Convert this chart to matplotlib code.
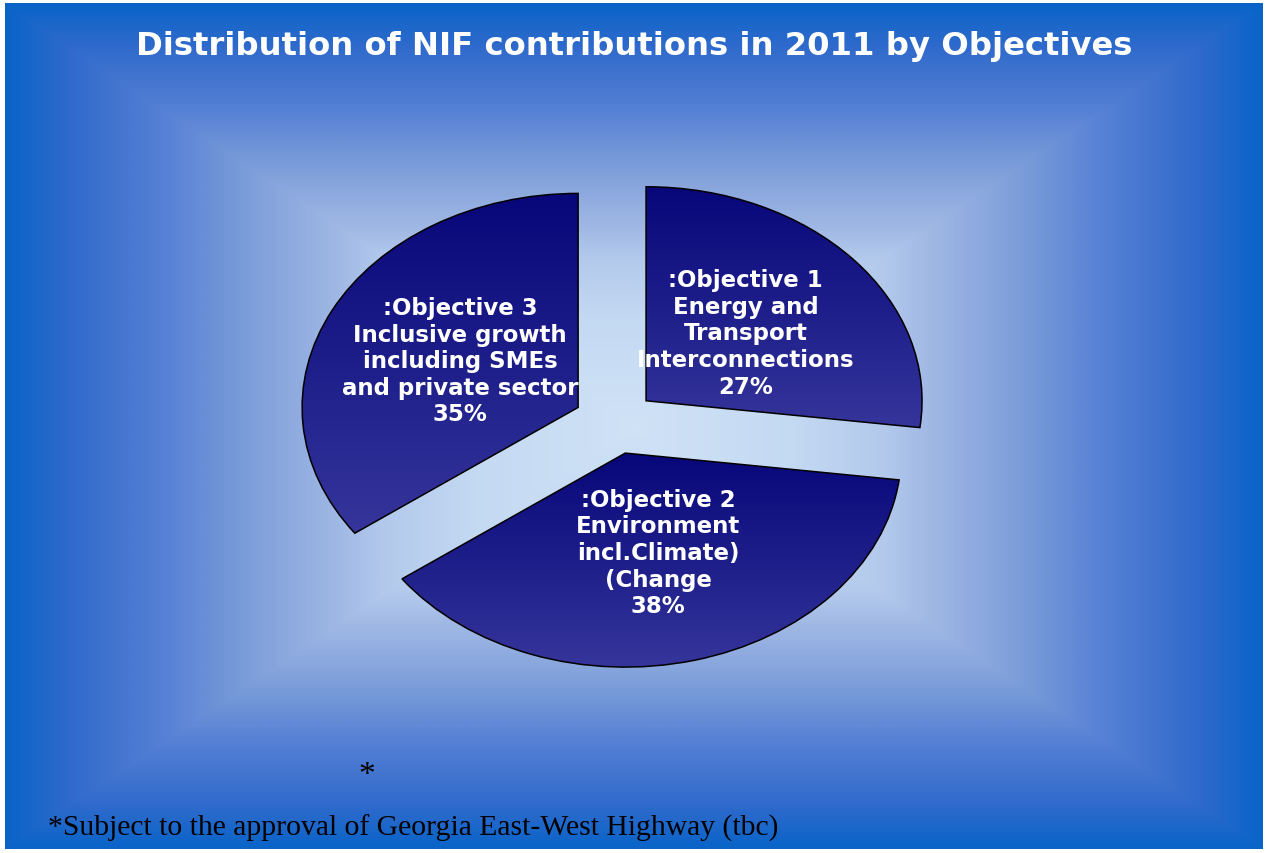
"""Distribution of NIF contributions in 2011 by Objectives -- exploded, flattened pie
on a boxed blue gradient slide background."""
import matplotlib

matplotlib.use("Agg")
import matplotlib.pyplot as plt
import numpy as np
from matplotlib.colors import LinearSegmentedColormap

OBJECTIVES = [
    ":Objective 1\nEnergy and\nTransport\nInterconnections",
    ":Objective 2\nEnvironment\nincl.Climate)\n(Change",
    ":Objective 3\nInclusive growth\nincluding SMEs\nand private sector",
]
SHARES = [27, 38, 35]
TITLE = "Distribution of NIF contributions in 2011 by Objectives"
FOOTNOTE = "*Subject to the approval of Georgia East-West Highway (tbc)"

W, H = 1272, 854
# pie centre and radii in pixels (the pie is squashed into an ellipse)
CX, CY, RX, RY = 615, 423, 276, 214

bg_cmap = LinearSegmentedColormap.from_list("bg", [
    (0.0, "#cfe2f6"), (0.25, "#c4d9f2"), (0.40, "#b2c9ec"), (0.47, "#a0b8e4"),
    (0.57, "#88a6dd"), (0.66, "#6f94d6"), (0.74, "#5882d6"), (0.82, "#4476d0"),
    (0.90, "#2f6acc"), (1.0, "#0a64c8")])
wedge_cmap = LinearSegmentedColormap.from_list("wedge", ["#07077a", "#35359b"])


def main():
    plt.rcParams["font.family"] = ["DejaVu Sans"]
    fig = plt.figure(figsize=(W / 100, H / 100), dpi=100, facecolor="white")

    # background: rectangular "from centre" gradient
    bg = fig.add_axes([5 / W, 4 / H, 1258 / W, 846 / H])
    u = np.abs(np.linspace(-1, 1, 800))
    v = np.abs(np.linspace(-1, 1, 540))
    t = np.maximum(u[None, :], v[:, None])
    bg.imshow(t, cmap=bg_cmap, vmin=0, vmax=1, aspect="auto",
              interpolation="bilinear")
    bg.set_axis_off()

    ax = fig.add_axes([0, 0, 1, 1], facecolor="none")
    labels = [f"{o}\n{s}%" for o, s in zip(OBJECTIVES, SHARES)]
    wedges, texts = ax.pie(
        SHARES, labels=labels, startangle=90, counterclock=False,
        explode=[0.15] * 3, labeldistance=0.48,
        wedgeprops=dict(facecolor="none", edgecolor="black", linewidth=1.1, zorder=3),
        textprops=dict(color="white", fontsize=16.5, fontweight="bold", zorder=4))
    for w in wedges:
        x0, y0, x1, y1 = w.get_path().get_extents().extents
        grad = np.linspace(0, 1, 256)[:, None]
        im = ax.imshow(grad, cmap=wedge_cmap, extent=[x0, x1, y0, y1],
                       origin="upper", aspect="auto", zorder=2)
        im.set_clip_path(w)
    for tx in texts:
        tx.set_ha("center")
        tx.set_va("center")
        tx.set_multialignment("center")
        tx.set_linespacing(1.2)

    ax.set_aspect("auto")
    ax.set_xlim(-CX / RX, (W - CX) / RX)
    ax.set_ylim((CY - H) / RY, CY / RY)
    ax.set_axis_off()

    fig.text(0.4985, 1 - 47 / H, TITLE, color="white", fontsize=23.2,
             fontweight="bold", ha="center", va="center")
    fig.text(367 / W, 1 - 776 / H, "*", color="black", fontsize=24,
             family=["Liberation Serif"], ha="center", va="center")
    fig.text(48 / W, 1 - 828 / H, FOOTNOTE, color="black", fontsize=21.3,
             family=["Liberation Serif"], ha="left", va="center")

    fig.savefig("out.png", dpi=100)


if __name__ == "__main__":
    main()
